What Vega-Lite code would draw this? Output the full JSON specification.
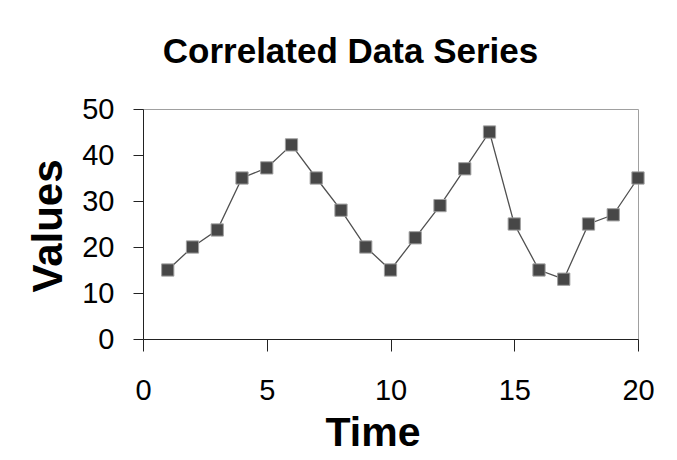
{
  "$schema": "https://vega.github.io/schema/vega-lite/v6.json",
  "width": 495,
  "height": 230,
  "autosize": "none",
  "padding": {"left": 143, "top": 109, "right": 39, "bottom": 121},
  "background": "white",
  "config": {
    "font": "Liberation Sans",
    "view": {"stroke": "#a0a0a0", "strokeWidth": 1}
  },
  "title": {
    "text": "Correlated Data Series",
    "fontSize": 35,
    "fontWeight": "bold",
    "font": "Liberation Sans",
    "color": "black",
    "anchor": "middle",
    "frame": "group",
    "dx": -40,
    "baseline": "alphabetic",
    "offset": -3
  },
  "data": {
    "values": [
      {"Time": 1, "Value": 15},
      {"Time": 2, "Value": 20},
      {"Time": 3, "Value": 23.7},
      {"Time": 4, "Value": 35},
      {"Time": 5, "Value": 37.2},
      {"Time": 6, "Value": 42.2},
      {"Time": 7, "Value": 35},
      {"Time": 8, "Value": 28},
      {"Time": 9, "Value": 20},
      {"Time": 10, "Value": 15},
      {"Time": 11, "Value": 22},
      {"Time": 12, "Value": 29},
      {"Time": 13, "Value": 37},
      {"Time": 14, "Value": 45},
      {"Time": 15, "Value": 25},
      {"Time": 16, "Value": 15},
      {"Time": 17, "Value": 13},
      {"Time": 18, "Value": 25},
      {"Time": 19, "Value": 27},
      {"Time": 20, "Value": 35}
    ]
  },
  "encoding": {
    "x": {
      "field": "Time",
      "type": "quantitative",
      "scale": {"domain": [0, 20], "nice": false, "zero": false},
      "axis": {
        "title": "Time",
        "values": [0, 5, 10, 15, 20],
        "grid": false,
        "domainColor": "#222",
        "tickColor": "#222",
        "tickSize": 12,
        "labelFontSize": 29,
        "labelColor": "black",
        "labelPadding": 25,
        "labelFlush": false,
        "titleFontSize": 41,
        "titleFontWeight": "bold",
        "titleColor": "black",
        "titleBaseline": "alphabetic",
        "titleAlign": "center",
        "titleX": 229.5,
        "titleY": 106
      }
    },
    "y": {
      "field": "Value",
      "type": "quantitative",
      "scale": {"domain": [0, 50], "nice": false},
      "axis": {
        "title": "Values",
        "values": [0, 10, 20, 30, 40, 50],
        "grid": false,
        "domainColor": "#222",
        "tickColor": "#222",
        "tickSize": 10,
        "labelFontSize": 29,
        "labelColor": "black",
        "labelPadding": 19,
        "labelFlush": false,
        "titleFontSize": 42,
        "titleFontWeight": "bold",
        "titleColor": "black",
        "titleAngle": 270,
        "titleBaseline": "alphabetic",
        "titleAlign": "center",
        "titleX": -82,
        "titleY": 116.5
      }
    }
  },
  "layer": [
    {"mark": {"type": "line", "color": "#505050", "strokeWidth": 1.3}},
    {"mark": {"type": "point", "shape": "square", "size": 150, "filled": true, "fill": "#474747", "stroke": "#a0a0a0", "strokeWidth": 1, "opacity": 1}}
  ]
}
